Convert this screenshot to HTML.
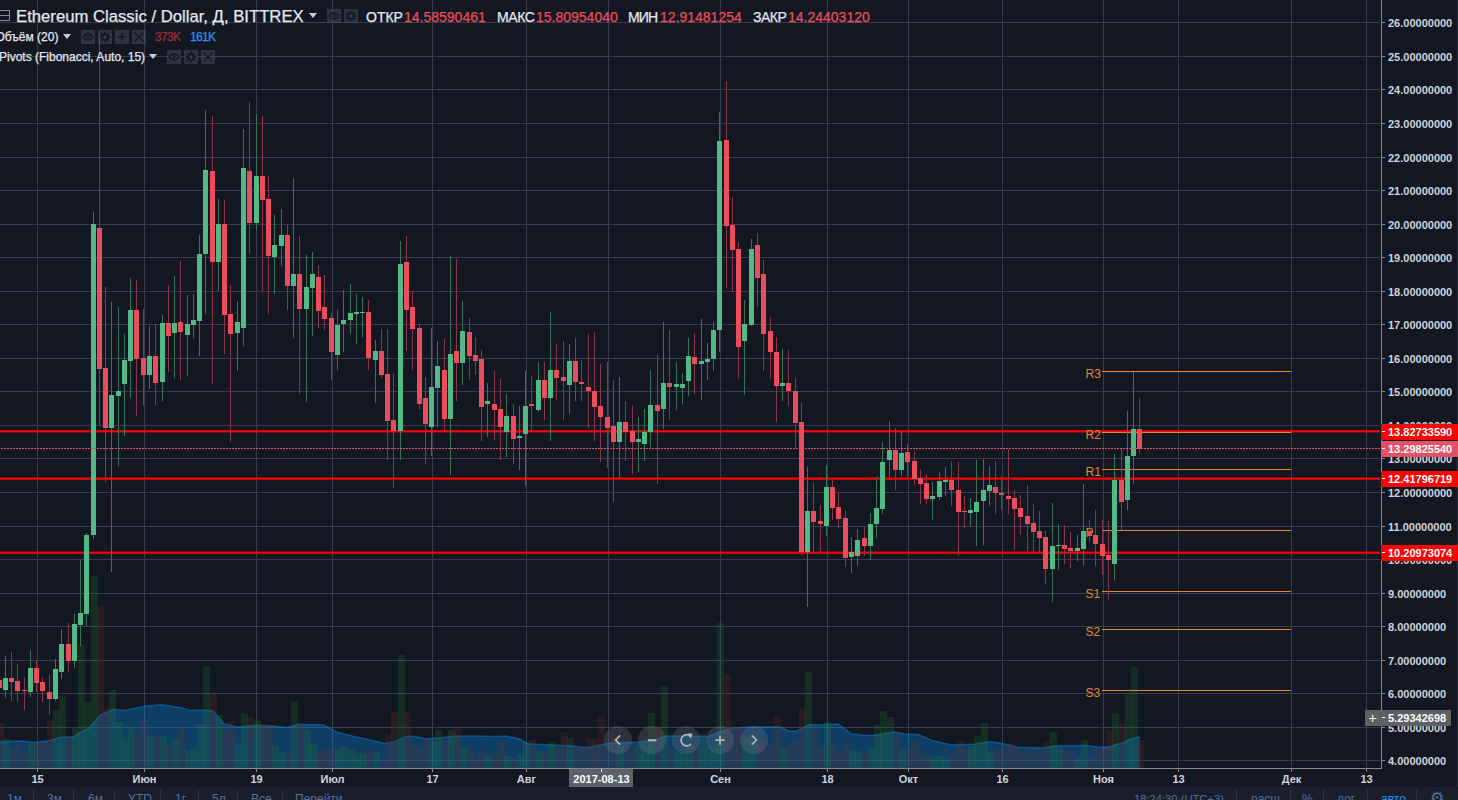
<!DOCTYPE html><html><head><meta charset="utf-8"><style>html,body{margin:0;padding:0;width:1458px;height:800px;overflow:hidden;background:#131722;font-family:"Liberation Sans",sans-serif;}
.t{position:absolute;white-space:nowrap;line-height:1;-webkit-text-stroke:0.25px currentColor;}
.pl{position:absolute;left:1388px;font-size:11px;font-weight:bold;color:#d1d4dc;line-height:1;}
.tl{position:absolute;top:774px;font-size:11px;font-weight:bold;color:#d1d4dc;line-height:1;transform:translateX(-50%);}
.box{position:absolute;left:1381px;width:77px;height:16px;}
.pv{position:absolute;font-size:12px;color:#e0892e;line-height:1;text-align:right;width:40px;}
.ic{position:absolute;width:14px;height:14px;background:rgba(120,123,134,0.18);}
.tb{position:absolute;top:793px;font-size:12px;color:#54709a;line-height:1;}
.sep{position:absolute;top:790px;width:1px;height:10px;background:#2f3443;}
.nav{position:absolute;top:726px;width:28px;height:28px;border-radius:50%;background:rgba(120,123,134,0.28);color:#a9acb6;font-size:18px;text-align:center;line-height:28px;}
</style></head><body><svg width="1458" height="800" viewBox="0 0 1458 800" style="position:absolute;left:0;top:0" shape-rendering="crispEdges"><rect x="0" y="22" width="1380" height="1" fill="#363c4e"/><rect x="0" y="56" width="1380" height="1" fill="#363c4e"/><rect x="0" y="89" width="1380" height="1" fill="#363c4e"/><rect x="0" y="123" width="1380" height="1" fill="#363c4e"/><rect x="0" y="157" width="1380" height="1" fill="#363c4e"/><rect x="0" y="190" width="1380" height="1" fill="#363c4e"/><rect x="0" y="224" width="1380" height="1" fill="#363c4e"/><rect x="0" y="257" width="1380" height="1" fill="#363c4e"/><rect x="0" y="291" width="1380" height="1" fill="#363c4e"/><rect x="0" y="324" width="1380" height="1" fill="#363c4e"/><rect x="0" y="358" width="1380" height="1" fill="#363c4e"/><rect x="0" y="391" width="1380" height="1" fill="#363c4e"/><rect x="0" y="425" width="1380" height="1" fill="#363c4e"/><rect x="0" y="458" width="1380" height="1" fill="#363c4e"/><rect x="0" y="492" width="1380" height="1" fill="#363c4e"/><rect x="0" y="526" width="1380" height="1" fill="#363c4e"/><rect x="0" y="559" width="1380" height="1" fill="#363c4e"/><rect x="0" y="593" width="1380" height="1" fill="#363c4e"/><rect x="0" y="626" width="1380" height="1" fill="#363c4e"/><rect x="0" y="660" width="1380" height="1" fill="#363c4e"/><rect x="0" y="693" width="1380" height="1" fill="#363c4e"/><rect x="0" y="727" width="1380" height="1" fill="#363c4e"/><rect x="0" y="760" width="1380" height="1" fill="#363c4e"/><rect x="37" y="0" width="1" height="768" fill="#363c4e"/><rect x="144" y="0" width="1" height="768" fill="#363c4e"/><rect x="256" y="0" width="1" height="768" fill="#363c4e"/><rect x="332" y="0" width="1" height="768" fill="#363c4e"/><rect x="432" y="0" width="1" height="768" fill="#363c4e"/><rect x="526" y="0" width="1" height="768" fill="#363c4e"/><rect x="608" y="0" width="1" height="768" fill="#363c4e"/><rect x="720" y="0" width="1" height="768" fill="#363c4e"/><rect x="827" y="0" width="1" height="768" fill="#363c4e"/><rect x="908" y="0" width="1" height="768" fill="#363c4e"/><rect x="1002" y="0" width="1" height="768" fill="#363c4e"/><rect x="1103" y="0" width="1" height="768" fill="#363c4e"/><rect x="1178" y="0" width="1" height="768" fill="#363c4e"/><rect x="1291" y="0" width="1" height="768" fill="#363c4e"/><rect x="1366" y="0" width="1" height="768" fill="#363c4e"/><polygon shape-rendering="auto" points="0,768 0.0,741.8 18.7,740.9 34.8,742.2 48.1,740.9 61.5,737.2 73.6,736.8 82.9,730.8 88.3,728.8 100.3,715.0 113.7,709.2 124.4,710.5 145.8,706.1 161.8,704.7 180.6,707.4 189.9,710.5 199.7,709.9 212.7,710.7 224.1,723.7 237.1,727.0 255.0,725.3 271.2,725.8 287.5,727.4 297.2,724.5 323.2,724.8 336.2,731.8 346.0,734.6 357.3,737.2 368.7,739.4 385.0,743.5 394.4,741.9 407.5,735.9 415.0,736.6 426.2,738.7 441.2,737.8 456.2,735.9 478.8,735.9 495.6,736.6 506.9,735.9 520.0,739.0 527.5,743.8 546.2,744.7 572.5,746.0 585.0,747.5 592.0,747.0 600.0,745.0 610.0,743.0 630.0,742.4 640.0,742.0 656.0,739.6 666.0,736.0 680.0,736.0 708.0,736.4 720.0,732.0 732.0,728.0 750.0,727.0 778.0,726.8 782.0,727.6 789.0,731.1 796.0,731.1 810.0,724.5 820.5,724.8 838.0,724.1 852.0,734.1 866.0,735.5 876.5,735.0 894.0,731.8 904.5,734.1 918.5,734.6 932.5,740.6 943.0,742.9 951.7,745.1 970.0,744.3 975.5,744.1 989.5,741.6 1003.5,743.7 1017.5,747.2 1042.0,748.1 1056.0,745.8 1087.5,745.5 1098.0,746.9 1108.5,746.9 1117.0,744.1 1122.5,742.9 1131.0,738.8 1140.0,736.7 1140,768" fill="rgba(6,145,240,0.32)"/><polyline shape-rendering="auto" points="0.0,741.8 18.7,740.9 34.8,742.2 48.1,740.9 61.5,737.2 73.6,736.8 82.9,730.8 88.3,728.8 100.3,715.0 113.7,709.2 124.4,710.5 145.8,706.1 161.8,704.7 180.6,707.4 189.9,710.5 199.7,709.9 212.7,710.7 224.1,723.7 237.1,727.0 255.0,725.3 271.2,725.8 287.5,727.4 297.2,724.5 323.2,724.8 336.2,731.8 346.0,734.6 357.3,737.2 368.7,739.4 385.0,743.5 394.4,741.9 407.5,735.9 415.0,736.6 426.2,738.7 441.2,737.8 456.2,735.9 478.8,735.9 495.6,736.6 506.9,735.9 520.0,739.0 527.5,743.8 546.2,744.7 572.5,746.0 585.0,747.5 592.0,747.0 600.0,745.0 610.0,743.0 630.0,742.4 640.0,742.0 656.0,739.6 666.0,736.0 680.0,736.0 708.0,736.4 720.0,732.0 732.0,728.0 750.0,727.0 778.0,726.8 782.0,727.6 789.0,731.1 796.0,731.1 810.0,724.5 820.5,724.8 838.0,724.1 852.0,734.1 866.0,735.5 876.5,735.0 894.0,731.8 904.5,734.1 918.5,734.6 932.5,740.6 943.0,742.9 951.7,745.1 970.0,744.3 975.5,744.1 989.5,741.6 1003.5,743.7 1017.5,747.2 1042.0,748.1 1056.0,745.8 1087.5,745.5 1098.0,746.9 1108.5,746.9 1117.0,744.1 1122.5,742.9 1131.0,738.8 1140.0,736.7" fill="none" stroke="rgba(6,145,240,0.4)" stroke-width="1.5"/><rect x="-3" y="723" width="7" height="45" fill="rgba(124,48,39,0.2)"/><rect x="3" y="739" width="7" height="29" fill="rgba(34,133,39,0.2)"/><rect x="9" y="749" width="7" height="19" fill="rgba(124,48,39,0.2)"/><rect x="15" y="745" width="7" height="23" fill="rgba(124,48,39,0.2)"/><rect x="22" y="752" width="7" height="16" fill="rgba(124,48,39,0.2)"/><rect x="28" y="743" width="7" height="25" fill="rgba(34,133,39,0.2)"/><rect x="34" y="743" width="7" height="25" fill="rgba(124,48,39,0.2)"/><rect x="40" y="742" width="7" height="26" fill="rgba(124,48,39,0.2)"/><rect x="47" y="720" width="7" height="48" fill="rgba(124,48,39,0.2)"/><rect x="53" y="710" width="7" height="58" fill="rgba(34,133,39,0.2)"/><rect x="59" y="696" width="7" height="72" fill="rgba(34,133,39,0.2)"/><rect x="66" y="737" width="7" height="31" fill="rgba(124,48,39,0.2)"/><rect x="72" y="728" width="7" height="40" fill="rgba(34,133,39,0.2)"/><rect x="78" y="645" width="7" height="123" fill="rgba(34,133,39,0.2)"/><rect x="84" y="702" width="7" height="66" fill="rgba(34,133,39,0.2)"/><rect x="91" y="576" width="7" height="192" fill="rgba(34,133,39,0.2)"/><rect x="97" y="606" width="7" height="162" fill="rgba(124,48,39,0.2)"/><rect x="103" y="709" width="7" height="59" fill="rgba(124,48,39,0.2)"/><rect x="109" y="690" width="7" height="78" fill="rgba(34,133,39,0.2)"/><rect x="116" y="722" width="7" height="46" fill="rgba(34,133,39,0.2)"/><rect x="122" y="737" width="7" height="31" fill="rgba(34,133,39,0.2)"/><rect x="128" y="727" width="7" height="41" fill="rgba(34,133,39,0.2)"/><rect x="134" y="735" width="7" height="33" fill="rgba(124,48,39,0.2)"/><rect x="141" y="720" width="7" height="48" fill="rgba(124,48,39,0.2)"/><rect x="147" y="735" width="7" height="33" fill="rgba(34,133,39,0.2)"/><rect x="153" y="735" width="7" height="33" fill="rgba(124,48,39,0.2)"/><rect x="160" y="736" width="7" height="32" fill="rgba(34,133,39,0.2)"/><rect x="166" y="744" width="7" height="24" fill="rgba(124,48,39,0.2)"/><rect x="172" y="739" width="7" height="29" fill="rgba(34,133,39,0.2)"/><rect x="178" y="727" width="7" height="41" fill="rgba(124,48,39,0.2)"/><rect x="185" y="751" width="7" height="17" fill="rgba(34,133,39,0.2)"/><rect x="191" y="748" width="7" height="20" fill="rgba(34,133,39,0.2)"/><rect x="197" y="724" width="7" height="44" fill="rgba(34,133,39,0.2)"/><rect x="203" y="666" width="7" height="102" fill="rgba(34,133,39,0.2)"/><rect x="210" y="694" width="7" height="74" fill="rgba(124,48,39,0.2)"/><rect x="216" y="715" width="7" height="53" fill="rgba(34,133,39,0.2)"/><rect x="222" y="732" width="7" height="36" fill="rgba(124,48,39,0.2)"/><rect x="228" y="721" width="7" height="47" fill="rgba(124,48,39,0.2)"/><rect x="235" y="743" width="7" height="25" fill="rgba(34,133,39,0.2)"/><rect x="241" y="714" width="7" height="54" fill="rgba(34,133,39,0.2)"/><rect x="247" y="717" width="7" height="51" fill="rgba(124,48,39,0.2)"/><rect x="254" y="720" width="7" height="48" fill="rgba(34,133,39,0.2)"/><rect x="260" y="724" width="7" height="44" fill="rgba(124,48,39,0.2)"/><rect x="266" y="725" width="7" height="43" fill="rgba(124,48,39,0.2)"/><rect x="272" y="746" width="7" height="22" fill="rgba(34,133,39,0.2)"/><rect x="279" y="752" width="7" height="16" fill="rgba(34,133,39,0.2)"/><rect x="285" y="754" width="7" height="14" fill="rgba(124,48,39,0.2)"/><rect x="291" y="701" width="7" height="67" fill="rgba(34,133,39,0.2)"/><rect x="297" y="723" width="7" height="45" fill="rgba(124,48,39,0.2)"/><rect x="304" y="730" width="7" height="38" fill="rgba(34,133,39,0.2)"/><rect x="310" y="744" width="7" height="24" fill="rgba(34,133,39,0.2)"/><rect x="316" y="751" width="7" height="17" fill="rgba(124,48,39,0.2)"/><rect x="322" y="748" width="7" height="20" fill="rgba(124,48,39,0.2)"/><rect x="329" y="750" width="7" height="18" fill="rgba(124,48,39,0.2)"/><rect x="335" y="749" width="7" height="19" fill="rgba(34,133,39,0.2)"/><rect x="341" y="747" width="7" height="21" fill="rgba(34,133,39,0.2)"/><rect x="348" y="750" width="7" height="18" fill="rgba(34,133,39,0.2)"/><rect x="354" y="753" width="7" height="15" fill="rgba(34,133,39,0.2)"/><rect x="360" y="754" width="7" height="14" fill="rgba(34,133,39,0.2)"/><rect x="366" y="750" width="7" height="18" fill="rgba(124,48,39,0.2)"/><rect x="373" y="752" width="7" height="16" fill="rgba(34,133,39,0.2)"/><rect x="379" y="759" width="7" height="9" fill="rgba(124,48,39,0.2)"/><rect x="385" y="734" width="7" height="34" fill="rgba(124,48,39,0.2)"/><rect x="391" y="712" width="7" height="56" fill="rgba(124,48,39,0.2)"/><rect x="398" y="655" width="7" height="113" fill="rgba(34,133,39,0.2)"/><rect x="404" y="713" width="7" height="55" fill="rgba(124,48,39,0.2)"/><rect x="410" y="744" width="7" height="24" fill="rgba(124,48,39,0.2)"/><rect x="417" y="748" width="7" height="20" fill="rgba(124,48,39,0.2)"/><rect x="423" y="740" width="7" height="28" fill="rgba(124,48,39,0.2)"/><rect x="429" y="740" width="7" height="28" fill="rgba(34,133,39,0.2)"/><rect x="435" y="730" width="7" height="38" fill="rgba(34,133,39,0.2)"/><rect x="442" y="740" width="7" height="28" fill="rgba(124,48,39,0.2)"/><rect x="448" y="730" width="7" height="38" fill="rgba(34,133,39,0.2)"/><rect x="454" y="728" width="7" height="40" fill="rgba(124,48,39,0.2)"/><rect x="460" y="748" width="7" height="20" fill="rgba(34,133,39,0.2)"/><rect x="467" y="749" width="7" height="19" fill="rgba(124,48,39,0.2)"/><rect x="473" y="754" width="7" height="14" fill="rgba(124,48,39,0.2)"/><rect x="479" y="750" width="7" height="18" fill="rgba(124,48,39,0.2)"/><rect x="485" y="755" width="7" height="13" fill="rgba(34,133,39,0.2)"/><rect x="492" y="755" width="7" height="13" fill="rgba(124,48,39,0.2)"/><rect x="498" y="741" width="7" height="27" fill="rgba(124,48,39,0.2)"/><rect x="504" y="756" width="7" height="12" fill="rgba(34,133,39,0.2)"/><rect x="511" y="758" width="7" height="10" fill="rgba(124,48,39,0.2)"/><rect x="517" y="754" width="7" height="14" fill="rgba(34,133,39,0.2)"/><rect x="523" y="742" width="7" height="26" fill="rgba(34,133,39,0.2)"/><rect x="529" y="740" width="7" height="28" fill="rgba(124,48,39,0.2)"/><rect x="536" y="751" width="7" height="17" fill="rgba(34,133,39,0.2)"/><rect x="542" y="752" width="7" height="16" fill="rgba(124,48,39,0.2)"/><rect x="548" y="742" width="7" height="26" fill="rgba(34,133,39,0.2)"/><rect x="554" y="748" width="7" height="20" fill="rgba(124,48,39,0.2)"/><rect x="561" y="732" width="7" height="36" fill="rgba(124,48,39,0.2)"/><rect x="567" y="738" width="7" height="30" fill="rgba(34,133,39,0.2)"/><rect x="573" y="748" width="7" height="20" fill="rgba(124,48,39,0.2)"/><rect x="579" y="746" width="7" height="22" fill="rgba(124,48,39,0.2)"/><rect x="586" y="738" width="7" height="30" fill="rgba(124,48,39,0.2)"/><rect x="592" y="738" width="7" height="30" fill="rgba(124,48,39,0.2)"/><rect x="598" y="715" width="7" height="53" fill="rgba(124,48,39,0.2)"/><rect x="605" y="745" width="7" height="23" fill="rgba(124,48,39,0.2)"/><rect x="611" y="738" width="7" height="30" fill="rgba(124,48,39,0.2)"/><rect x="617" y="746" width="7" height="22" fill="rgba(34,133,39,0.2)"/><rect x="623" y="750" width="7" height="18" fill="rgba(124,48,39,0.2)"/><rect x="630" y="748" width="7" height="20" fill="rgba(124,48,39,0.2)"/><rect x="636" y="745" width="7" height="23" fill="rgba(34,133,39,0.2)"/><rect x="642" y="745" width="7" height="23" fill="rgba(34,133,39,0.2)"/><rect x="648" y="713" width="7" height="55" fill="rgba(34,133,39,0.2)"/><rect x="655" y="726" width="7" height="42" fill="rgba(124,48,39,0.2)"/><rect x="661" y="686" width="7" height="82" fill="rgba(34,133,39,0.2)"/><rect x="667" y="748" width="7" height="20" fill="rgba(124,48,39,0.2)"/><rect x="674" y="752" width="7" height="16" fill="rgba(34,133,39,0.2)"/><rect x="680" y="752" width="7" height="16" fill="rgba(34,133,39,0.2)"/><rect x="686" y="745" width="7" height="23" fill="rgba(34,133,39,0.2)"/><rect x="692" y="745" width="7" height="23" fill="rgba(124,48,39,0.2)"/><rect x="699" y="734" width="7" height="34" fill="rgba(34,133,39,0.2)"/><rect x="705" y="745" width="7" height="23" fill="rgba(34,133,39,0.2)"/><rect x="711" y="748" width="7" height="20" fill="rgba(34,133,39,0.2)"/><rect x="717" y="623" width="7" height="145" fill="rgba(34,133,39,0.2)"/><rect x="724" y="674" width="7" height="94" fill="rgba(124,48,39,0.2)"/><rect x="730" y="727" width="7" height="41" fill="rgba(124,48,39,0.2)"/><rect x="736" y="727" width="7" height="41" fill="rgba(124,48,39,0.2)"/><rect x="742" y="738" width="7" height="30" fill="rgba(34,133,39,0.2)"/><rect x="749" y="735" width="7" height="33" fill="rgba(34,133,39,0.2)"/><rect x="755" y="740" width="7" height="28" fill="rgba(124,48,39,0.2)"/><rect x="761" y="740" width="7" height="28" fill="rgba(124,48,39,0.2)"/><rect x="768" y="745" width="7" height="23" fill="rgba(124,48,39,0.2)"/><rect x="774" y="716" width="7" height="52" fill="rgba(124,48,39,0.2)"/><rect x="780" y="748" width="7" height="20" fill="rgba(34,133,39,0.2)"/><rect x="786" y="743" width="7" height="25" fill="rgba(124,48,39,0.2)"/><rect x="793" y="741" width="7" height="27" fill="rgba(124,48,39,0.2)"/><rect x="799" y="708" width="7" height="60" fill="rgba(124,48,39,0.2)"/><rect x="805" y="672" width="7" height="96" fill="rgba(34,133,39,0.2)"/><rect x="811" y="727" width="7" height="41" fill="rgba(124,48,39,0.2)"/><rect x="818" y="748" width="7" height="20" fill="rgba(124,48,39,0.2)"/><rect x="824" y="722" width="7" height="46" fill="rgba(34,133,39,0.2)"/><rect x="830" y="741" width="7" height="27" fill="rgba(124,48,39,0.2)"/><rect x="836" y="752" width="7" height="16" fill="rgba(124,48,39,0.2)"/><rect x="843" y="741" width="7" height="27" fill="rgba(124,48,39,0.2)"/><rect x="849" y="750" width="7" height="18" fill="rgba(34,133,39,0.2)"/><rect x="855" y="751" width="7" height="17" fill="rgba(34,133,39,0.2)"/><rect x="862" y="753" width="7" height="15" fill="rgba(124,48,39,0.2)"/><rect x="868" y="748" width="7" height="20" fill="rgba(34,133,39,0.2)"/><rect x="874" y="725" width="7" height="43" fill="rgba(34,133,39,0.2)"/><rect x="880" y="711" width="7" height="57" fill="rgba(34,133,39,0.2)"/><rect x="887" y="717" width="7" height="51" fill="rgba(34,133,39,0.2)"/><rect x="893" y="732" width="7" height="36" fill="rgba(124,48,39,0.2)"/><rect x="899" y="749" width="7" height="19" fill="rgba(34,133,39,0.2)"/><rect x="905" y="749" width="7" height="19" fill="rgba(124,48,39,0.2)"/><rect x="912" y="740" width="7" height="28" fill="rgba(124,48,39,0.2)"/><rect x="918" y="755" width="7" height="13" fill="rgba(124,48,39,0.2)"/><rect x="924" y="755" width="7" height="13" fill="rgba(124,48,39,0.2)"/><rect x="930" y="756" width="7" height="12" fill="rgba(34,133,39,0.2)"/><rect x="937" y="756" width="7" height="12" fill="rgba(34,133,39,0.2)"/><rect x="943" y="759" width="7" height="9" fill="rgba(34,133,39,0.2)"/><rect x="949" y="753" width="7" height="15" fill="rgba(124,48,39,0.2)"/><rect x="956" y="741" width="7" height="27" fill="rgba(124,48,39,0.2)"/><rect x="962" y="750" width="7" height="18" fill="rgba(124,48,39,0.2)"/><rect x="968" y="746" width="7" height="22" fill="rgba(34,133,39,0.2)"/><rect x="974" y="736" width="7" height="32" fill="rgba(34,133,39,0.2)"/><rect x="981" y="723" width="7" height="45" fill="rgba(34,133,39,0.2)"/><rect x="987" y="751" width="7" height="17" fill="rgba(34,133,39,0.2)"/><rect x="993" y="750" width="7" height="18" fill="rgba(124,48,39,0.2)"/><rect x="999" y="749" width="7" height="19" fill="rgba(124,48,39,0.2)"/><rect x="1006" y="744" width="7" height="24" fill="rgba(124,48,39,0.2)"/><rect x="1012" y="747" width="7" height="21" fill="rgba(124,48,39,0.2)"/><rect x="1018" y="753" width="7" height="15" fill="rgba(124,48,39,0.2)"/><rect x="1025" y="749" width="7" height="19" fill="rgba(124,48,39,0.2)"/><rect x="1031" y="749" width="7" height="19" fill="rgba(124,48,39,0.2)"/><rect x="1037" y="754" width="7" height="14" fill="rgba(124,48,39,0.2)"/><rect x="1043" y="742" width="7" height="26" fill="rgba(124,48,39,0.2)"/><rect x="1050" y="732" width="7" height="36" fill="rgba(34,133,39,0.2)"/><rect x="1056" y="748" width="7" height="20" fill="rgba(34,133,39,0.2)"/><rect x="1062" y="750" width="7" height="18" fill="rgba(124,48,39,0.2)"/><rect x="1068" y="754" width="7" height="14" fill="rgba(124,48,39,0.2)"/><rect x="1075" y="757" width="7" height="11" fill="rgba(34,133,39,0.2)"/><rect x="1081" y="740" width="7" height="28" fill="rgba(34,133,39,0.2)"/><rect x="1087" y="755" width="7" height="13" fill="rgba(124,48,39,0.2)"/><rect x="1093" y="749" width="7" height="19" fill="rgba(124,48,39,0.2)"/><rect x="1100" y="746" width="7" height="22" fill="rgba(124,48,39,0.2)"/><rect x="1106" y="730" width="7" height="38" fill="rgba(124,48,39,0.2)"/><rect x="1112" y="714" width="7" height="54" fill="rgba(34,133,39,0.2)"/><rect x="1119" y="723" width="7" height="45" fill="rgba(124,48,39,0.2)"/><rect x="1125" y="693" width="7" height="75" fill="rgba(34,133,39,0.2)"/><rect x="1131" y="667" width="7" height="101" fill="rgba(34,133,39,0.2)"/><rect x="1137" y="740" width="7" height="28" fill="rgba(124,48,39,0.2)"/><rect shape-rendering="auto" x="0" y="430.23" width="1380" height="2.2" fill="#ff0000"/><rect shape-rendering="auto" x="0" y="477.51" width="1380" height="2.2" fill="#ff0000"/><rect shape-rendering="auto" x="0" y="551.58" width="1380" height="2.2" fill="#ff0000"/><rect x="1102" y="371" width="189" height="1" fill="#e0892e"/><text x="1085.5" y="378" text-anchor="start" font-family="Liberation Sans" font-size="12" fill="#e0892e" shape-rendering="auto">R3</text><rect x="1102" y="432" width="189" height="1" fill="#e0892e"/><text x="1085.5" y="439" text-anchor="start" font-family="Liberation Sans" font-size="12" fill="#e0892e" shape-rendering="auto">R2</text><rect x="1102" y="469" width="189" height="1" fill="#e0892e"/><text x="1085.5" y="476" text-anchor="start" font-family="Liberation Sans" font-size="12" fill="#e0892e" shape-rendering="auto">R1</text><rect x="1102" y="530" width="189" height="1" fill="#e0892e"/><text x="1085.5" y="537" text-anchor="start" font-family="Liberation Sans" font-size="12" fill="#e0892e" shape-rendering="auto">P</text><rect x="1102" y="591" width="189" height="1" fill="#e0892e"/><text x="1085.5" y="598" text-anchor="start" font-family="Liberation Sans" font-size="12" fill="#e0892e" shape-rendering="auto">S1</text><rect x="1102" y="629" width="189" height="1" fill="#e0892e"/><text x="1085.5" y="636" text-anchor="start" font-family="Liberation Sans" font-size="12" fill="#e0892e" shape-rendering="auto">S2</text><rect x="1102" y="690" width="189" height="1" fill="#e0892e"/><text x="1085.5" y="697" text-anchor="start" font-family="Liberation Sans" font-size="12" fill="#e0892e" shape-rendering="auto">S3</text><rect x="-1" y="676" width="1" height="16" fill="#86384a"/><rect x="-3" y="680" width="5" height="8" fill="#eb4d5c"/><rect x="5" y="656" width="1" height="42" fill="#3a7358"/><rect x="3" y="678" width="5" height="12" fill="#53b987"/><rect x="11" y="652" width="1" height="49" fill="#86384a"/><rect x="9" y="678" width="5" height="4" fill="#eb4d5c"/><rect x="17" y="664" width="1" height="38" fill="#86384a"/><rect x="15" y="681" width="5" height="10" fill="#eb4d5c"/><rect x="24" y="677" width="1" height="33" fill="#86384a"/><rect x="22" y="690" width="5" height="1" fill="#eb4d5c"/><rect x="30" y="650" width="1" height="47" fill="#3a7358"/><rect x="28" y="668" width="5" height="24" fill="#53b987"/><rect x="36" y="660" width="1" height="32" fill="#86384a"/><rect x="34" y="668" width="5" height="15" fill="#eb4d5c"/><rect x="42" y="677" width="1" height="25" fill="#86384a"/><rect x="40" y="682" width="5" height="9" fill="#eb4d5c"/><rect x="49" y="675" width="1" height="40" fill="#86384a"/><rect x="47" y="692" width="5" height="7" fill="#eb4d5c"/><rect x="55" y="659" width="1" height="42" fill="#3a7358"/><rect x="53" y="669" width="5" height="30" fill="#53b987"/><rect x="61" y="629" width="1" height="50" fill="#3a7358"/><rect x="59" y="644" width="5" height="28" fill="#53b987"/><rect x="68" y="623" width="1" height="49" fill="#86384a"/><rect x="66" y="644" width="5" height="17" fill="#eb4d5c"/><rect x="74" y="614" width="1" height="54" fill="#3a7358"/><rect x="72" y="624" width="5" height="37" fill="#53b987"/><rect x="80" y="560" width="1" height="86" fill="#3a7358"/><rect x="78" y="613" width="5" height="12" fill="#53b987"/><rect x="86" y="533" width="1" height="93" fill="#3a7358"/><rect x="84" y="535" width="5" height="79" fill="#53b987"/><rect x="93" y="212" width="1" height="327" fill="#3a7358"/><rect x="91" y="224" width="5" height="311" fill="#53b987"/><rect x="99" y="36" width="1" height="389" fill="#86384a"/><rect x="97" y="228" width="5" height="141" fill="#eb4d5c"/><rect x="105" y="287" width="1" height="195" fill="#86384a"/><rect x="103" y="368" width="5" height="60" fill="#eb4d5c"/><rect x="111" y="302" width="1" height="270" fill="#3a7358"/><rect x="109" y="395" width="5" height="33" fill="#53b987"/><rect x="118" y="307" width="1" height="159" fill="#3a7358"/><rect x="116" y="391" width="5" height="5" fill="#53b987"/><rect x="124" y="334" width="1" height="102" fill="#3a7358"/><rect x="122" y="360" width="5" height="24" fill="#53b987"/><rect x="130" y="278" width="1" height="120" fill="#3a7358"/><rect x="128" y="310" width="5" height="51" fill="#53b987"/><rect x="136" y="280" width="1" height="136" fill="#86384a"/><rect x="134" y="310" width="5" height="49" fill="#eb4d5c"/><rect x="143" y="309" width="1" height="96" fill="#86384a"/><rect x="141" y="358" width="5" height="17" fill="#eb4d5c"/><rect x="149" y="326" width="1" height="63" fill="#3a7358"/><rect x="147" y="356" width="5" height="19" fill="#53b987"/><rect x="155" y="324" width="1" height="81" fill="#86384a"/><rect x="153" y="356" width="5" height="27" fill="#eb4d5c"/><rect x="162" y="315" width="1" height="86" fill="#3a7358"/><rect x="160" y="323" width="5" height="59" fill="#53b987"/><rect x="168" y="285" width="1" height="87" fill="#86384a"/><rect x="166" y="323" width="5" height="13" fill="#eb4d5c"/><rect x="174" y="276" width="1" height="102" fill="#3a7358"/><rect x="172" y="323" width="5" height="10" fill="#53b987"/><rect x="180" y="261" width="1" height="119" fill="#86384a"/><rect x="178" y="322" width="5" height="10" fill="#eb4d5c"/><rect x="187" y="295" width="1" height="81" fill="#3a7358"/><rect x="185" y="324" width="5" height="11" fill="#53b987"/><rect x="193" y="294" width="1" height="44" fill="#3a7358"/><rect x="191" y="320" width="5" height="5" fill="#53b987"/><rect x="199" y="235" width="1" height="121" fill="#3a7358"/><rect x="197" y="254" width="5" height="67" fill="#53b987"/><rect x="205" y="110" width="1" height="204" fill="#3a7358"/><rect x="203" y="170" width="5" height="84" fill="#53b987"/><rect x="212" y="116" width="1" height="268" fill="#86384a"/><rect x="210" y="171" width="5" height="91" fill="#eb4d5c"/><rect x="218" y="199" width="1" height="92" fill="#3a7358"/><rect x="216" y="224" width="5" height="38" fill="#53b987"/><rect x="224" y="200" width="1" height="154" fill="#86384a"/><rect x="222" y="224" width="5" height="91" fill="#eb4d5c"/><rect x="230" y="285" width="1" height="157" fill="#86384a"/><rect x="228" y="314" width="5" height="20" fill="#eb4d5c"/><rect x="237" y="301" width="1" height="70" fill="#3a7358"/><rect x="235" y="322" width="5" height="11" fill="#53b987"/><rect x="243" y="129" width="1" height="217" fill="#3a7358"/><rect x="241" y="168" width="5" height="160" fill="#53b987"/><rect x="249" y="102" width="1" height="152" fill="#86384a"/><rect x="247" y="171" width="5" height="52" fill="#eb4d5c"/><rect x="256" y="114" width="1" height="117" fill="#3a7358"/><rect x="254" y="176" width="5" height="47" fill="#53b987"/><rect x="262" y="116" width="1" height="175" fill="#86384a"/><rect x="260" y="176" width="5" height="24" fill="#eb4d5c"/><rect x="268" y="176" width="1" height="138" fill="#86384a"/><rect x="266" y="199" width="5" height="57" fill="#eb4d5c"/><rect x="274" y="215" width="1" height="79" fill="#3a7358"/><rect x="272" y="245" width="5" height="12" fill="#53b987"/><rect x="281" y="209" width="1" height="57" fill="#3a7358"/><rect x="279" y="235" width="5" height="11" fill="#53b987"/><rect x="287" y="225" width="1" height="85" fill="#86384a"/><rect x="285" y="235" width="5" height="51" fill="#eb4d5c"/><rect x="293" y="178" width="1" height="160" fill="#3a7358"/><rect x="291" y="274" width="5" height="12" fill="#53b987"/><rect x="299" y="236" width="1" height="158" fill="#86384a"/><rect x="297" y="274" width="5" height="35" fill="#eb4d5c"/><rect x="306" y="255" width="1" height="147" fill="#3a7358"/><rect x="304" y="287" width="5" height="22" fill="#53b987"/><rect x="312" y="252" width="1" height="84" fill="#3a7358"/><rect x="310" y="274" width="5" height="14" fill="#53b987"/><rect x="318" y="265" width="1" height="63" fill="#86384a"/><rect x="316" y="277" width="5" height="34" fill="#eb4d5c"/><rect x="324" y="275" width="1" height="55" fill="#86384a"/><rect x="322" y="307" width="5" height="12" fill="#eb4d5c"/><rect x="331" y="313" width="1" height="67" fill="#86384a"/><rect x="329" y="318" width="5" height="34" fill="#eb4d5c"/><rect x="337" y="310" width="1" height="60" fill="#3a7358"/><rect x="335" y="325" width="5" height="30" fill="#53b987"/><rect x="343" y="290" width="1" height="62" fill="#3a7358"/><rect x="341" y="320" width="5" height="4" fill="#53b987"/><rect x="350" y="284" width="1" height="50" fill="#3a7358"/><rect x="348" y="313" width="5" height="7" fill="#53b987"/><rect x="356" y="294" width="1" height="50" fill="#3a7358"/><rect x="354" y="312" width="5" height="2" fill="#53b987"/><rect x="362" y="297" width="1" height="40" fill="#3a7358"/><rect x="360" y="312" width="5" height="1" fill="#53b987"/><rect x="368" y="300" width="1" height="70" fill="#86384a"/><rect x="366" y="312" width="5" height="46" fill="#eb4d5c"/><rect x="375" y="340" width="1" height="63" fill="#3a7358"/><rect x="373" y="351" width="5" height="9" fill="#53b987"/><rect x="381" y="329" width="1" height="49" fill="#86384a"/><rect x="379" y="351" width="5" height="24" fill="#eb4d5c"/><rect x="387" y="329" width="1" height="131" fill="#86384a"/><rect x="385" y="374" width="5" height="47" fill="#eb4d5c"/><rect x="393" y="373" width="1" height="115" fill="#86384a"/><rect x="391" y="420" width="5" height="11" fill="#eb4d5c"/><rect x="400" y="241" width="1" height="219" fill="#3a7358"/><rect x="398" y="264" width="5" height="167" fill="#53b987"/><rect x="406" y="236" width="1" height="115" fill="#86384a"/><rect x="404" y="262" width="5" height="48" fill="#eb4d5c"/><rect x="412" y="291" width="1" height="79" fill="#86384a"/><rect x="410" y="307" width="5" height="22" fill="#eb4d5c"/><rect x="419" y="324" width="1" height="85" fill="#86384a"/><rect x="417" y="328" width="5" height="76" fill="#eb4d5c"/><rect x="425" y="377" width="1" height="87" fill="#86384a"/><rect x="423" y="398" width="5" height="26" fill="#eb4d5c"/><rect x="431" y="328" width="1" height="128" fill="#3a7358"/><rect x="429" y="387" width="5" height="40" fill="#53b987"/><rect x="437" y="341" width="1" height="86" fill="#3a7358"/><rect x="435" y="366" width="5" height="22" fill="#53b987"/><rect x="444" y="339" width="1" height="91" fill="#86384a"/><rect x="442" y="370" width="5" height="49" fill="#eb4d5c"/><rect x="450" y="256" width="1" height="219" fill="#3a7358"/><rect x="448" y="354" width="5" height="65" fill="#53b987"/><rect x="456" y="259" width="1" height="142" fill="#86384a"/><rect x="454" y="351" width="5" height="12" fill="#eb4d5c"/><rect x="462" y="301" width="1" height="84" fill="#3a7358"/><rect x="460" y="331" width="5" height="32" fill="#53b987"/><rect x="469" y="318" width="1" height="62" fill="#86384a"/><rect x="467" y="332" width="5" height="24" fill="#eb4d5c"/><rect x="475" y="337" width="1" height="38" fill="#86384a"/><rect x="473" y="355" width="5" height="6" fill="#eb4d5c"/><rect x="481" y="350" width="1" height="91" fill="#86384a"/><rect x="479" y="359" width="5" height="48" fill="#eb4d5c"/><rect x="487" y="383" width="1" height="54" fill="#3a7358"/><rect x="485" y="401" width="5" height="3" fill="#53b987"/><rect x="494" y="371" width="1" height="69" fill="#86384a"/><rect x="492" y="404" width="5" height="6" fill="#eb4d5c"/><rect x="500" y="379" width="1" height="81" fill="#86384a"/><rect x="498" y="409" width="5" height="18" fill="#eb4d5c"/><rect x="506" y="394" width="1" height="63" fill="#3a7358"/><rect x="504" y="416" width="5" height="16" fill="#53b987"/><rect x="513" y="404" width="1" height="60" fill="#86384a"/><rect x="511" y="416" width="5" height="23" fill="#eb4d5c"/><rect x="519" y="406" width="1" height="64" fill="#3a7358"/><rect x="517" y="436" width="5" height="2" fill="#53b987"/><rect x="525" y="371" width="1" height="115" fill="#3a7358"/><rect x="523" y="406" width="5" height="28" fill="#53b987"/><rect x="531" y="376" width="1" height="56" fill="#86384a"/><rect x="529" y="404" width="5" height="2" fill="#eb4d5c"/><rect x="538" y="362" width="1" height="50" fill="#3a7358"/><rect x="536" y="380" width="5" height="30" fill="#53b987"/><rect x="544" y="362" width="1" height="58" fill="#86384a"/><rect x="542" y="380" width="5" height="18" fill="#eb4d5c"/><rect x="550" y="312" width="1" height="129" fill="#3a7358"/><rect x="548" y="370" width="5" height="28" fill="#53b987"/><rect x="556" y="344" width="1" height="56" fill="#86384a"/><rect x="554" y="370" width="5" height="8" fill="#eb4d5c"/><rect x="563" y="341" width="1" height="79" fill="#86384a"/><rect x="561" y="377" width="5" height="4" fill="#eb4d5c"/><rect x="569" y="344" width="1" height="70" fill="#3a7358"/><rect x="567" y="361" width="5" height="24" fill="#53b987"/><rect x="575" y="338" width="1" height="63" fill="#86384a"/><rect x="573" y="361" width="5" height="21" fill="#eb4d5c"/><rect x="581" y="360" width="1" height="41" fill="#86384a"/><rect x="579" y="382" width="5" height="2" fill="#eb4d5c"/><rect x="588" y="334" width="1" height="94" fill="#86384a"/><rect x="586" y="387" width="5" height="4" fill="#eb4d5c"/><rect x="594" y="332" width="1" height="109" fill="#86384a"/><rect x="592" y="391" width="5" height="16" fill="#eb4d5c"/><rect x="600" y="364" width="1" height="98" fill="#86384a"/><rect x="598" y="406" width="5" height="11" fill="#eb4d5c"/><rect x="607" y="362" width="1" height="106" fill="#86384a"/><rect x="605" y="417" width="5" height="11" fill="#eb4d5c"/><rect x="613" y="380" width="1" height="122" fill="#86384a"/><rect x="611" y="426" width="5" height="16" fill="#eb4d5c"/><rect x="619" y="377" width="1" height="101" fill="#3a7358"/><rect x="617" y="422" width="5" height="20" fill="#53b987"/><rect x="625" y="401" width="1" height="60" fill="#86384a"/><rect x="623" y="422" width="5" height="10" fill="#eb4d5c"/><rect x="632" y="405" width="1" height="69" fill="#86384a"/><rect x="630" y="431" width="5" height="11" fill="#eb4d5c"/><rect x="638" y="417" width="1" height="55" fill="#3a7358"/><rect x="636" y="439" width="5" height="3" fill="#53b987"/><rect x="644" y="409" width="1" height="52" fill="#3a7358"/><rect x="642" y="432" width="5" height="12" fill="#53b987"/><rect x="650" y="370" width="1" height="78" fill="#3a7358"/><rect x="648" y="405" width="5" height="27" fill="#53b987"/><rect x="657" y="354" width="1" height="130" fill="#86384a"/><rect x="655" y="405" width="5" height="6" fill="#eb4d5c"/><rect x="663" y="322" width="1" height="107" fill="#3a7358"/><rect x="661" y="383" width="5" height="26" fill="#53b987"/><rect x="669" y="330" width="1" height="90" fill="#86384a"/><rect x="667" y="383" width="5" height="4" fill="#eb4d5c"/><rect x="676" y="362" width="1" height="48" fill="#3a7358"/><rect x="674" y="384" width="5" height="3" fill="#53b987"/><rect x="682" y="373" width="1" height="31" fill="#3a7358"/><rect x="680" y="384" width="5" height="4" fill="#53b987"/><rect x="688" y="338" width="1" height="58" fill="#3a7358"/><rect x="686" y="356" width="5" height="25" fill="#53b987"/><rect x="694" y="333" width="1" height="61" fill="#86384a"/><rect x="692" y="357" width="5" height="7" fill="#eb4d5c"/><rect x="701" y="319" width="1" height="81" fill="#3a7358"/><rect x="699" y="361" width="5" height="3" fill="#53b987"/><rect x="707" y="343" width="1" height="37" fill="#3a7358"/><rect x="705" y="359" width="5" height="3" fill="#53b987"/><rect x="713" y="322" width="1" height="49" fill="#3a7358"/><rect x="711" y="330" width="5" height="29" fill="#53b987"/><rect x="719" y="112" width="1" height="240" fill="#3a7358"/><rect x="717" y="141" width="5" height="189" fill="#53b987"/><rect x="726" y="81" width="1" height="207" fill="#86384a"/><rect x="724" y="140" width="5" height="86" fill="#eb4d5c"/><rect x="732" y="197" width="1" height="95" fill="#86384a"/><rect x="730" y="225" width="5" height="25" fill="#eb4d5c"/><rect x="738" y="242" width="1" height="137" fill="#86384a"/><rect x="736" y="249" width="5" height="98" fill="#eb4d5c"/><rect x="744" y="300" width="1" height="95" fill="#3a7358"/><rect x="742" y="324" width="5" height="17" fill="#53b987"/><rect x="751" y="239" width="1" height="87" fill="#3a7358"/><rect x="749" y="249" width="5" height="76" fill="#53b987"/><rect x="757" y="233" width="1" height="74" fill="#86384a"/><rect x="755" y="245" width="5" height="33" fill="#eb4d5c"/><rect x="763" y="260" width="1" height="111" fill="#86384a"/><rect x="761" y="274" width="5" height="60" fill="#eb4d5c"/><rect x="770" y="317" width="1" height="62" fill="#86384a"/><rect x="768" y="331" width="5" height="21" fill="#eb4d5c"/><rect x="776" y="337" width="1" height="85" fill="#86384a"/><rect x="774" y="352" width="5" height="34" fill="#eb4d5c"/><rect x="782" y="349" width="1" height="52" fill="#3a7358"/><rect x="780" y="383" width="5" height="3" fill="#53b987"/><rect x="788" y="350" width="1" height="56" fill="#86384a"/><rect x="786" y="383" width="5" height="8" fill="#eb4d5c"/><rect x="795" y="378" width="1" height="70" fill="#86384a"/><rect x="793" y="391" width="5" height="32" fill="#eb4d5c"/><rect x="801" y="403" width="1" height="152" fill="#86384a"/><rect x="799" y="422" width="5" height="130" fill="#eb4d5c"/><rect x="807" y="467" width="1" height="140" fill="#3a7358"/><rect x="805" y="511" width="5" height="41" fill="#53b987"/><rect x="813" y="483" width="1" height="70" fill="#86384a"/><rect x="811" y="511" width="5" height="11" fill="#eb4d5c"/><rect x="820" y="505" width="1" height="49" fill="#86384a"/><rect x="818" y="521" width="5" height="3" fill="#eb4d5c"/><rect x="826" y="465" width="1" height="71" fill="#3a7358"/><rect x="824" y="487" width="5" height="39" fill="#53b987"/><rect x="832" y="480" width="1" height="40" fill="#86384a"/><rect x="830" y="487" width="5" height="21" fill="#eb4d5c"/><rect x="838" y="492" width="1" height="36" fill="#86384a"/><rect x="836" y="507" width="5" height="12" fill="#eb4d5c"/><rect x="845" y="511" width="1" height="56" fill="#86384a"/><rect x="843" y="518" width="5" height="40" fill="#eb4d5c"/><rect x="851" y="537" width="1" height="36" fill="#3a7358"/><rect x="849" y="552" width="5" height="5" fill="#53b987"/><rect x="857" y="529" width="1" height="37" fill="#3a7358"/><rect x="855" y="540" width="5" height="16" fill="#53b987"/><rect x="864" y="527" width="1" height="29" fill="#86384a"/><rect x="862" y="538" width="5" height="8" fill="#eb4d5c"/><rect x="870" y="513" width="1" height="47" fill="#3a7358"/><rect x="868" y="524" width="5" height="22" fill="#53b987"/><rect x="876" y="477" width="1" height="61" fill="#3a7358"/><rect x="874" y="508" width="5" height="16" fill="#53b987"/><rect x="882" y="442" width="1" height="72" fill="#3a7358"/><rect x="880" y="462" width="5" height="47" fill="#53b987"/><rect x="889" y="421" width="1" height="56" fill="#3a7358"/><rect x="887" y="450" width="5" height="10" fill="#53b987"/><rect x="895" y="428" width="1" height="62" fill="#86384a"/><rect x="893" y="450" width="5" height="20" fill="#eb4d5c"/><rect x="901" y="431" width="1" height="45" fill="#3a7358"/><rect x="899" y="453" width="5" height="17" fill="#53b987"/><rect x="907" y="444" width="1" height="34" fill="#86384a"/><rect x="905" y="452" width="5" height="10" fill="#eb4d5c"/><rect x="914" y="452" width="1" height="33" fill="#86384a"/><rect x="912" y="461" width="5" height="18" fill="#eb4d5c"/><rect x="920" y="469" width="1" height="35" fill="#86384a"/><rect x="918" y="478" width="5" height="6" fill="#eb4d5c"/><rect x="926" y="474" width="1" height="30" fill="#86384a"/><rect x="924" y="483" width="5" height="16" fill="#eb4d5c"/><rect x="932" y="482" width="1" height="38" fill="#3a7358"/><rect x="930" y="496" width="5" height="3" fill="#53b987"/><rect x="939" y="472" width="1" height="28" fill="#3a7358"/><rect x="937" y="481" width="5" height="16" fill="#53b987"/><rect x="945" y="467" width="1" height="29" fill="#3a7358"/><rect x="943" y="480" width="5" height="2" fill="#53b987"/><rect x="951" y="461" width="1" height="45" fill="#86384a"/><rect x="949" y="480" width="5" height="10" fill="#eb4d5c"/><rect x="958" y="462" width="1" height="94" fill="#86384a"/><rect x="956" y="490" width="5" height="22" fill="#eb4d5c"/><rect x="964" y="496" width="1" height="32" fill="#86384a"/><rect x="962" y="511" width="5" height="1" fill="#eb4d5c"/><rect x="970" y="498" width="1" height="28" fill="#3a7358"/><rect x="968" y="510" width="5" height="3" fill="#53b987"/><rect x="976" y="460" width="1" height="86" fill="#3a7358"/><rect x="974" y="502" width="5" height="10" fill="#53b987"/><rect x="983" y="459" width="1" height="86" fill="#3a7358"/><rect x="981" y="490" width="5" height="11" fill="#53b987"/><rect x="989" y="466" width="1" height="40" fill="#3a7358"/><rect x="987" y="485" width="5" height="6" fill="#53b987"/><rect x="995" y="461" width="1" height="53" fill="#86384a"/><rect x="993" y="487" width="5" height="6" fill="#eb4d5c"/><rect x="1001" y="476" width="1" height="34" fill="#86384a"/><rect x="999" y="493" width="5" height="2" fill="#eb4d5c"/><rect x="1008" y="449" width="1" height="65" fill="#86384a"/><rect x="1006" y="496" width="5" height="3" fill="#eb4d5c"/><rect x="1014" y="490" width="1" height="60" fill="#86384a"/><rect x="1012" y="498" width="5" height="11" fill="#eb4d5c"/><rect x="1020" y="495" width="1" height="40" fill="#86384a"/><rect x="1018" y="508" width="5" height="9" fill="#eb4d5c"/><rect x="1027" y="485" width="1" height="66" fill="#86384a"/><rect x="1025" y="516" width="5" height="8" fill="#eb4d5c"/><rect x="1033" y="504" width="1" height="49" fill="#86384a"/><rect x="1031" y="523" width="5" height="9" fill="#eb4d5c"/><rect x="1039" y="511" width="1" height="43" fill="#86384a"/><rect x="1037" y="531" width="5" height="7" fill="#eb4d5c"/><rect x="1045" y="531" width="1" height="53" fill="#86384a"/><rect x="1043" y="537" width="5" height="32" fill="#eb4d5c"/><rect x="1052" y="503" width="1" height="99" fill="#3a7358"/><rect x="1050" y="546" width="5" height="23" fill="#53b987"/><rect x="1058" y="524" width="1" height="46" fill="#3a7358"/><rect x="1056" y="545" width="5" height="1" fill="#53b987"/><rect x="1064" y="525" width="1" height="39" fill="#86384a"/><rect x="1062" y="545" width="5" height="4" fill="#eb4d5c"/><rect x="1070" y="532" width="1" height="36" fill="#86384a"/><rect x="1068" y="548" width="5" height="3" fill="#eb4d5c"/><rect x="1077" y="535" width="1" height="26" fill="#3a7358"/><rect x="1075" y="548" width="5" height="3" fill="#53b987"/><rect x="1083" y="484" width="1" height="82" fill="#3a7358"/><rect x="1081" y="531" width="5" height="18" fill="#53b987"/><rect x="1089" y="520" width="1" height="22" fill="#86384a"/><rect x="1087" y="531" width="5" height="5" fill="#eb4d5c"/><rect x="1095" y="510" width="1" height="56" fill="#86384a"/><rect x="1093" y="535" width="5" height="9" fill="#eb4d5c"/><rect x="1102" y="520" width="1" height="55" fill="#86384a"/><rect x="1100" y="544" width="5" height="12" fill="#eb4d5c"/><rect x="1108" y="521" width="1" height="79" fill="#86384a"/><rect x="1106" y="555" width="5" height="5" fill="#eb4d5c"/><rect x="1114" y="454" width="1" height="126" fill="#3a7358"/><rect x="1112" y="480" width="5" height="84" fill="#53b987"/><rect x="1121" y="448" width="1" height="82" fill="#86384a"/><rect x="1119" y="480" width="5" height="22" fill="#eb4d5c"/><rect x="1127" y="411" width="1" height="99" fill="#3a7358"/><rect x="1125" y="456" width="5" height="44" fill="#53b987"/><rect x="1133" y="372" width="1" height="112" fill="#3a7358"/><rect x="1131" y="429" width="5" height="27" fill="#53b987"/><rect x="1139" y="398" width="1" height="55" fill="#86384a"/><rect x="1137" y="429" width="5" height="20" fill="#eb4d5c"/><line x1="0" y1="448.5" x2="1380" y2="448.5" stroke="#eb4d5c" stroke-width="1" stroke-dasharray="2,1" stroke-dashoffset="2"/><rect x="1381" y="0" width="1" height="769" fill="#8a8a87"/><rect x="0" y="768" width="1382" height="1" fill="#8a8a87"/><rect x="1382" y="22" width="3" height="1" fill="#8a8a87"/><rect x="1382" y="56" width="3" height="1" fill="#8a8a87"/><rect x="1382" y="89" width="3" height="1" fill="#8a8a87"/><rect x="1382" y="123" width="3" height="1" fill="#8a8a87"/><rect x="1382" y="157" width="3" height="1" fill="#8a8a87"/><rect x="1382" y="190" width="3" height="1" fill="#8a8a87"/><rect x="1382" y="224" width="3" height="1" fill="#8a8a87"/><rect x="1382" y="257" width="3" height="1" fill="#8a8a87"/><rect x="1382" y="291" width="3" height="1" fill="#8a8a87"/><rect x="1382" y="324" width="3" height="1" fill="#8a8a87"/><rect x="1382" y="358" width="3" height="1" fill="#8a8a87"/><rect x="1382" y="391" width="3" height="1" fill="#8a8a87"/><rect x="1382" y="425" width="3" height="1" fill="#8a8a87"/><rect x="1382" y="458" width="3" height="1" fill="#8a8a87"/><rect x="1382" y="492" width="3" height="1" fill="#8a8a87"/><rect x="1382" y="526" width="3" height="1" fill="#8a8a87"/><rect x="1382" y="559" width="3" height="1" fill="#8a8a87"/><rect x="1382" y="593" width="3" height="1" fill="#8a8a87"/><rect x="1382" y="626" width="3" height="1" fill="#8a8a87"/><rect x="1382" y="660" width="3" height="1" fill="#8a8a87"/><rect x="1382" y="693" width="3" height="1" fill="#8a8a87"/><rect x="1382" y="727" width="3" height="1" fill="#8a8a87"/><rect x="1382" y="760" width="3" height="1" fill="#8a8a87"/><rect x="37" y="769" width="1" height="3" fill="#8a8a87"/><rect x="144" y="769" width="1" height="3" fill="#8a8a87"/><rect x="256" y="769" width="1" height="3" fill="#8a8a87"/><rect x="332" y="769" width="1" height="3" fill="#8a8a87"/><rect x="432" y="769" width="1" height="3" fill="#8a8a87"/><rect x="526" y="769" width="1" height="3" fill="#8a8a87"/><rect x="608" y="769" width="1" height="3" fill="#8a8a87"/><rect x="720" y="769" width="1" height="3" fill="#8a8a87"/><rect x="827" y="769" width="1" height="3" fill="#8a8a87"/><rect x="908" y="769" width="1" height="3" fill="#8a8a87"/><rect x="1002" y="769" width="1" height="3" fill="#8a8a87"/><rect x="1103" y="769" width="1" height="3" fill="#8a8a87"/><rect x="1178" y="769" width="1" height="3" fill="#8a8a87"/><rect x="1291" y="769" width="1" height="3" fill="#8a8a87"/><rect x="1366" y="769" width="1" height="3" fill="#8a8a87"/><rect x="1457" y="0" width="1" height="787" fill="#2d303e"/></svg><div class="pl" style="top:18px">26.00000000</div><div class="pl" style="top:52px">25.00000000</div><div class="pl" style="top:85px">24.00000000</div><div class="pl" style="top:119px">23.00000000</div><div class="pl" style="top:153px">22.00000000</div><div class="pl" style="top:186px">21.00000000</div><div class="pl" style="top:220px">20.00000000</div><div class="pl" style="top:253px">19.00000000</div><div class="pl" style="top:287px">18.00000000</div><div class="pl" style="top:320px">17.00000000</div><div class="pl" style="top:354px">16.00000000</div><div class="pl" style="top:387px">15.00000000</div><div class="pl" style="top:421px">14.00000000</div><div class="pl" style="top:454px">13.00000000</div><div class="pl" style="top:488px">12.00000000</div><div class="pl" style="top:522px">11.00000000</div><div class="pl" style="top:555px">10.00000000</div><div class="pl" style="top:589px">9.00000000</div><div class="pl" style="top:622px">8.00000000</div><div class="pl" style="top:656px">7.00000000</div><div class="pl" style="top:689px">6.00000000</div><div class="pl" style="top:723px">5.00000000</div><div class="pl" style="top:756px">4.00000000</div><div class="tl" style="left:37.5px">15</div><div class="tl" style="left:144.5px">Июн</div><div class="tl" style="left:256.5px">19</div><div class="tl" style="left:332.5px">Июл</div><div class="tl" style="left:432.5px">17</div><div class="tl" style="left:526.5px">Авг</div><div class="tl" style="left:720.5px">Сен</div><div class="tl" style="left:827.5px">18</div><div class="tl" style="left:908.5px">Окт</div><div class="tl" style="left:1002.5px">16</div><div class="tl" style="left:1103.5px">Ноя</div><div class="tl" style="left:1178.5px">13</div><div class="tl" style="left:1291.5px">Дек</div><div class="tl" style="left:1366.5px">13</div><div class="box" style="top:424px;background:#ff0000"></div><div style="position:absolute;left:1382px;top:431px;width:3px;height:1px;background:#fff"></div><div class="pl" style="top:427px;color:#fff">13.82733590</div><div class="box" style="top:441px;background:#e55064"></div><div style="position:absolute;left:1382px;top:448px;width:3px;height:1px;background:#fff"></div><div class="pl" style="top:444px;color:#fff">13.29825540</div><div class="box" style="top:471px;background:#ff0000"></div><div style="position:absolute;left:1382px;top:478px;width:3px;height:1px;background:#fff"></div><div class="pl" style="top:474px;color:#fff">12.41796719</div><div class="box" style="top:545px;background:#ff0000"></div><div style="position:absolute;left:1382px;top:552px;width:3px;height:1px;background:#fff"></div><div class="pl" style="top:548px;color:#fff">10.20973074</div><div style="position:absolute;left:1365px;top:710px;width:15px;height:16px;background:#5e6064"></div><div style="position:absolute;left:1365px;top:710px;width:15px;height:16px;color:#fff;font-size:14px;line-height:16px;text-align:center">+</div><div class="box" style="top:710px;width:71px;left:1380px;background:#5e6064"></div><div style="position:absolute;left:1382px;top:717px;width:3px;height:1px;background:#fff"></div><div class="pl" style="top:713px;color:#fff">5.29342698</div><div style="position:absolute;left:569px;top:769px;width:64px;height:18px;background:#5d606b"></div><div style="position:absolute;left:601px;top:769px;width:1px;height:3px;background:#fff"></div><div class="tl" style="left:601.5px;color:#fff">2017-08-13</div><div class="t" style="left:0px;top:10px;width:10px;height:11px;border:1px solid #8a8e99;border-left:none;box-sizing:border-box"></div><div class="t" style="left:0px;top:15px;width:9px;height:1px;background:#8a8e99"></div><div class="t" style="left:16px;top:8.5px;font-size:16.7px;color:#e6e8ee">Ethereum Classic / Dollar, Д, BITTREX</div><div class="t" style="left:309px;top:13px;width:0;height:0;border-left:4px solid transparent;border-right:4px solid transparent;border-top:5px solid #c9ccd4"></div><svg style="position:absolute;left:327px;top:9px" width="14" height="14" viewBox="0 0 14 14"><rect width="14" height="14" fill="rgba(84,90,106,0.42)"/><path d="M2 7 Q7 0.8 12 7 Q7 13.2 2 7 Z" fill="none" stroke="rgba(19,23,34,0.9)" stroke-width="1.6"/><circle cx="7" cy="7" r="1.5" fill="rgba(19,23,34,0.9)"/></svg><svg style="position:absolute;left:344px;top:9px" width="14" height="14" viewBox="0 0 14 14"><rect width="14" height="14" fill="rgba(84,90,106,0.42)"/><rect x="6" y="1.5" width="2" height="11" fill="rgba(19,23,34,0.9)" transform="rotate(0 7 7)"/><rect x="6" y="1.5" width="2" height="11" fill="rgba(19,23,34,0.9)" transform="rotate(45 7 7)"/><rect x="6" y="1.5" width="2" height="11" fill="rgba(19,23,34,0.9)" transform="rotate(90 7 7)"/><rect x="6" y="1.5" width="2" height="11" fill="rgba(19,23,34,0.9)" transform="rotate(135 7 7)"/><circle cx="7" cy="7" r="3.6" fill="rgba(19,23,34,0.9)"/><circle cx="7" cy="7" r="1.7" fill="#3a3f4d"/></svg><div class="t" style="left:366px;top:10px;font-size:14px;color:#e6e8ee">ОТКР</div><div class="t" style="left:404px;top:10px;font-size:14px;color:#eb4d5c">14.58590461</div><div class="t" style="left:497px;top:10px;font-size:14px;letter-spacing:-0.4px;color:#e6e8ee">МАКС</div><div class="t" style="left:536px;top:10px;font-size:14px;color:#eb4d5c">15.80954040</div><div class="t" style="left:628px;top:10px;font-size:14px;letter-spacing:-0.9px;color:#e6e8ee">МИН</div><div class="t" style="left:660px;top:10px;font-size:14px;color:#eb4d5c">12.91481254</div><div class="t" style="left:753px;top:10px;font-size:14px;letter-spacing:-0.5px;color:#e6e8ee">ЗАКР</div><div class="t" style="left:788px;top:10px;font-size:14px;color:#eb4d5c">14.24403120</div><div class="t" style="left:-4.5px;top:31px;font-size:12px;color:#e6e8ee">Объём (20)</div><div class="t" style="left:63px;top:34px;width:0;height:0;border-left:4px solid transparent;border-right:4px solid transparent;border-top:5px solid #c9ccd4"></div><svg style="position:absolute;left:81px;top:30px" width="14" height="14" viewBox="0 0 14 14"><rect width="14" height="14" fill="rgba(84,90,106,0.42)"/><path d="M2 7 Q7 0.8 12 7 Q7 13.2 2 7 Z" fill="none" stroke="rgba(19,23,34,0.9)" stroke-width="1.6"/><circle cx="7" cy="7" r="1.5" fill="rgba(19,23,34,0.9)"/></svg><svg style="position:absolute;left:98px;top:30px" width="14" height="14" viewBox="0 0 14 14"><rect width="14" height="14" fill="rgba(84,90,106,0.42)"/><rect x="6" y="1.5" width="2" height="11" fill="rgba(19,23,34,0.9)" transform="rotate(0 7 7)"/><rect x="6" y="1.5" width="2" height="11" fill="rgba(19,23,34,0.9)" transform="rotate(45 7 7)"/><rect x="6" y="1.5" width="2" height="11" fill="rgba(19,23,34,0.9)" transform="rotate(90 7 7)"/><rect x="6" y="1.5" width="2" height="11" fill="rgba(19,23,34,0.9)" transform="rotate(135 7 7)"/><circle cx="7" cy="7" r="3.6" fill="rgba(19,23,34,0.9)"/><circle cx="7" cy="7" r="1.7" fill="#3a3f4d"/></svg><svg style="position:absolute;left:115px;top:30px" width="14" height="14" viewBox="0 0 14 14"><rect width="14" height="14" fill="rgba(84,90,106,0.42)"/><rect x="3" y="6.2" width="8" height="1.6" fill="rgba(19,23,34,0.9)"/><rect x="6.2" y="3" width="1.6" height="8" fill="rgba(19,23,34,0.9)"/></svg><svg style="position:absolute;left:132px;top:30px" width="14" height="14" viewBox="0 0 14 14"><rect width="14" height="14" fill="rgba(84,90,106,0.42)"/><path d="M2.5 2.5 L11.5 11.5 M11.5 2.5 L2.5 11.5" stroke="rgba(19,23,34,0.9)" stroke-width="1.7"/></svg><div class="t" style="left:155px;top:31px;font-size:12px;letter-spacing:-0.7px;color:#9b2f38">373K</div><div class="t" style="left:190px;top:31px;font-size:12px;letter-spacing:-0.7px;color:#2196f3">161K</div><div class="t" style="left:-1px;top:51px;font-size:12px;color:#e6e8ee">Pivots (Fibonacci, Auto, 15)</div><div class="t" style="left:149px;top:54px;width:0;height:0;border-left:4px solid transparent;border-right:4px solid transparent;border-top:5px solid #c9ccd4"></div><svg style="position:absolute;left:167px;top:50px" width="14" height="14" viewBox="0 0 14 14"><rect width="14" height="14" fill="rgba(84,90,106,0.42)"/><path d="M2 7 Q7 0.8 12 7 Q7 13.2 2 7 Z" fill="none" stroke="rgba(19,23,34,0.9)" stroke-width="1.6"/><circle cx="7" cy="7" r="1.5" fill="rgba(19,23,34,0.9)"/></svg><svg style="position:absolute;left:184px;top:50px" width="14" height="14" viewBox="0 0 14 14"><rect width="14" height="14" fill="rgba(84,90,106,0.42)"/><rect x="6" y="1.5" width="2" height="11" fill="rgba(19,23,34,0.9)" transform="rotate(0 7 7)"/><rect x="6" y="1.5" width="2" height="11" fill="rgba(19,23,34,0.9)" transform="rotate(45 7 7)"/><rect x="6" y="1.5" width="2" height="11" fill="rgba(19,23,34,0.9)" transform="rotate(90 7 7)"/><rect x="6" y="1.5" width="2" height="11" fill="rgba(19,23,34,0.9)" transform="rotate(135 7 7)"/><circle cx="7" cy="7" r="3.6" fill="rgba(19,23,34,0.9)"/><circle cx="7" cy="7" r="1.7" fill="#3a3f4d"/></svg><svg style="position:absolute;left:201px;top:50px" width="14" height="14" viewBox="0 0 14 14"><rect width="14" height="14" fill="rgba(84,90,106,0.42)"/><path d="M2.5 2.5 L11.5 11.5 M11.5 2.5 L2.5 11.5" stroke="rgba(19,23,34,0.9)" stroke-width="1.7"/></svg><div class="nav" style="left:604px"></div><div class="nav" style="left:638px"></div><div class="nav" style="left:672px"></div><div class="nav" style="left:706px"></div><div class="nav" style="left:740px"></div><svg style="position:absolute;left:0;top:0" width="1458" height="800"><g fill="none" stroke="#b4b7bf" stroke-width="1.7">
<polyline points="620.2,735.3 615.6,740 620.2,744.7"/>
<polyline points="751.8,735.3 756.4,740 751.8,744.7"/>
<path d="M690.6 736.3 A5.6 5.6 0 1 0 690.9 744.0"/>
<path d="M715.5 740.2 H724.5 M720 735.7 V744.7"/>
</g><rect x="648" y="739.3" width="8.4" height="2" fill="#b4b7bf"/>
<path d="M687.6 733.4 L692.6 733.6 L691.0 738.4 Z" fill="#b4b7bf"/></svg><div style="position:absolute;left:99px;top:36px;width:1px;height:9px;background:#86384a"></div><div style="position:absolute;left:0;top:787px;width:1458px;height:13px;background:#1a1e2b"></div><div class="tb" style="left:7px">1м</div><div class="tb" style="left:47px">3м</div><div class="tb" style="left:88px">6м</div><div class="tb" style="left:128px">YTD</div><div class="tb" style="left:175px">1г</div><div class="tb" style="left:212px">5л</div><div class="tb" style="left:251px">Все</div><div class="tb" style="left:295px">Перейти</div><div class="tb" style="left:1134px"><span style="font-size:11.2px">18:24:30 (UTC+3)</span></div><div class="tb" style="left:1251px">расш</div><div class="tb" style="left:1302px">%</div><div class="tb" style="left:1337px">лог</div><div class="tb" style="left:1381px;color:#2196f3">авто</div><div class="sep" style="left:33px"></div><div class="sep" style="left:73px"></div><div class="sep" style="left:114px"></div><div class="sep" style="left:160px"></div><div class="sep" style="left:198px"></div><div class="sep" style="left:237px"></div><div class="sep" style="left:282px"></div><div class="sep" style="left:1236px"></div><div class="sep" style="left:1290px"></div><div class="sep" style="left:1323px"></div><div class="sep" style="left:1367px"></div><div class="sep" style="left:1416px"></div><div class="tb" style="left:1430px;top:790px;font-size:16px">&#9881;</div></body></html>
